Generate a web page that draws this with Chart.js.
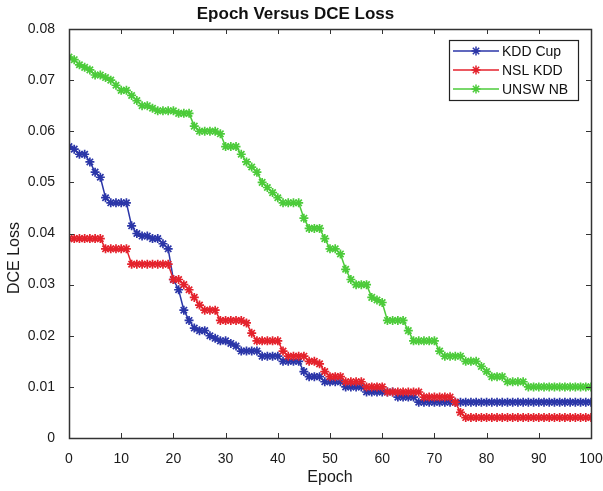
<!DOCTYPE html>
<html>
<head>
<meta charset="utf-8">
<title>Epoch Versus DCE Loss</title>
<script src="https://cdn.jsdelivr.net/npm/chart.js@4.4.1/dist/chart.umd.min.js"></script>
<style>
  html, body { margin: 0; padding: 0; background: #fff; }
  #wrap { width: 603px; height: 491px; }
</style>
</head>
<body>
<div id="wrap"><canvas id="lossChart" width="603" height="491"></canvas></div>
<script>
// Dados (perda DCE por época)
const epochs = [
  0, 1, 2, 3, 4, 5, 6, 7, 8, 9, 10, 11, 12, 13, 14, 15, 16, 17, 18, 19,
  20, 21, 22, 23, 24, 25, 26, 27, 28, 29, 30, 31, 32, 33, 34, 35, 36, 37, 38, 39,
  40, 41, 42, 43, 44, 45, 46, 47, 48, 49, 50, 51, 52, 53, 54, 55, 56, 57, 58, 59,
  60, 61, 62, 63, 64, 65, 66, 67, 68, 69, 70, 71, 72, 73, 74, 75, 76, 77, 78, 79,
  80, 81, 82, 83, 84, 85, 86, 87, 88, 89, 90, 91, 92, 93, 94, 95, 96, 97, 98, 99, 100
];

const kddCup = [
  0.057, 0.0565, 0.0555, 0.0555, 0.054, 0.052, 0.051, 0.047, 0.046, 0.046,
  0.046, 0.046, 0.0415, 0.040, 0.0395, 0.0395, 0.039, 0.039, 0.038, 0.037,
  0.031, 0.029, 0.025, 0.023, 0.0215, 0.021, 0.021, 0.020, 0.0195, 0.019,
  0.019, 0.0185, 0.018, 0.017, 0.017, 0.017, 0.017, 0.016, 0.016, 0.016,
  0.016, 0.015, 0.015, 0.015, 0.015, 0.013, 0.012, 0.012, 0.012, 0.011,
  0.011, 0.011, 0.011, 0.010, 0.010, 0.010, 0.010, 0.009, 0.009, 0.009,
  0.009, 0.009, 0.009, 0.008, 0.008, 0.008, 0.008, 0.007, 0.007, 0.007,
  0.007, 0.007, 0.007, 0.007, 0.007, 0.007, 0.007, 0.007, 0.007, 0.007,
  0.007, 0.007, 0.007, 0.007, 0.007, 0.007, 0.007, 0.007, 0.007, 0.007,
  0.007, 0.007, 0.007, 0.007, 0.007, 0.007, 0.007, 0.007, 0.007, 0.007,
  0.007
];

const nslKdd = [
  0.039, 0.039, 0.039, 0.039, 0.039, 0.039, 0.039, 0.037, 0.037, 0.037,
  0.037, 0.037, 0.034, 0.034, 0.034, 0.034, 0.034, 0.034, 0.034, 0.034,
  0.031, 0.031, 0.030, 0.029, 0.0275, 0.026, 0.025, 0.025, 0.025, 0.023,
  0.023, 0.023, 0.023, 0.023, 0.0225, 0.0205, 0.019, 0.019, 0.019, 0.019,
  0.019, 0.017, 0.016, 0.016, 0.016, 0.016, 0.015, 0.015, 0.0145, 0.013,
  0.012, 0.012, 0.012, 0.011, 0.011, 0.011, 0.011, 0.010, 0.010, 0.010,
  0.010, 0.009, 0.009, 0.009, 0.009, 0.009, 0.009, 0.009, 0.008, 0.008,
  0.008, 0.008, 0.008, 0.008, 0.007, 0.005, 0.004, 0.004, 0.004, 0.004,
  0.004, 0.004, 0.004, 0.004, 0.004, 0.004, 0.004, 0.004, 0.004, 0.004,
  0.004, 0.004, 0.004, 0.004, 0.004, 0.004, 0.004, 0.004, 0.004, 0.004,
  0.004
];

const unswNb = [
  0.0745, 0.074, 0.073, 0.0725, 0.072, 0.071, 0.071, 0.0705, 0.070, 0.069,
  0.068, 0.068, 0.067, 0.066, 0.065, 0.065, 0.0645, 0.064, 0.064, 0.064,
  0.064, 0.0635, 0.0635, 0.0635, 0.061, 0.060, 0.060, 0.060, 0.060, 0.0595,
  0.057, 0.057, 0.057, 0.0555, 0.054, 0.053, 0.052, 0.050, 0.049, 0.048,
  0.047, 0.046, 0.046, 0.046, 0.046, 0.043, 0.041, 0.041, 0.041, 0.039,
  0.037, 0.037, 0.036, 0.033, 0.031, 0.030, 0.030, 0.030, 0.0275, 0.027,
  0.0265, 0.023, 0.023, 0.023, 0.023, 0.021, 0.019, 0.019, 0.019, 0.019,
  0.019, 0.017, 0.016, 0.016, 0.016, 0.016, 0.015, 0.015, 0.015, 0.014,
  0.013, 0.012, 0.012, 0.012, 0.011, 0.011, 0.011, 0.011, 0.010, 0.010,
  0.010, 0.010, 0.010, 0.010, 0.010, 0.010, 0.010, 0.010, 0.010, 0.010,
  0.010
];

const seriesNames = ['KDD Cup', 'NSL KDD', 'UNSW NB'];
const seriesColors = ['#2b36a8', '#e4222c', '#4ccb3a'];

const xTicks = [0, 10, 20, 30, 40, 50, 60, 70, 80, 90, 100];
const yTicks = [0, 0.01, 0.02, 0.03, 0.04, 0.05, 0.06, 0.07, 0.08];
const yTickLabels = ['0', '0.01', '0.02', '0.03', '0.04', '0.05', '0.06', '0.07', '0.08'];

// Fonte parecida com Helvetica do MATLAB
Chart.defaults.font.family = "'Liberation Sans', Arial, Helvetica, sans-serif";
Chart.defaults.color = '#1a1a1a';

function toPoints(values) {
    return values.map((v, i) => ({ x: epochs[i], y: v }));
}

const allSeries = [kddCup, nslKdd, unswNb];

// Caixa do eixo + marcas de escala para dentro (estilo MATLAB)
const boxTicks = {
    id: 'boxTicks',
    afterDatasetsDraw(chart) {
        const ctx = chart.ctx;
        const a = chart.chartArea;
        const xs = chart.scales.x;
        const ys = chart.scales.y;
        const len = 5;
        ctx.save();
        ctx.strokeStyle = '#333';
        ctx.lineWidth = 1;
        xs.ticks.forEach(t => {
            const px = Math.round(xs.getPixelForValue(t.value)) + 0.5;
            ctx.beginPath();
            ctx.moveTo(px, a.bottom); ctx.lineTo(px, a.bottom - len);
            ctx.moveTo(px, a.top); ctx.lineTo(px, a.top + len);
            ctx.stroke();
        });
        ys.ticks.forEach(t => {
            const py = Math.round(ys.getPixelForValue(t.value)) + 0.5;
            ctx.beginPath();
            ctx.moveTo(a.left, py); ctx.lineTo(a.left + len, py);
            ctx.moveTo(a.right, py); ctx.lineTo(a.right - len, py);
            ctx.stroke();
        });
        ctx.lineWidth = 1.5;
        ctx.strokeRect(Math.round(a.left) + 0.5, Math.round(a.top) + 0.5,
            Math.round(a.right - a.left), Math.round(a.bottom - a.top));
        ctx.restore();
    }
};

// Rótulo do eixo Y (um pouco abaixo do centro, como na figura)
const yLabel = {
    id: 'yLabel',
    afterDraw(chart) {
        const ctx = chart.ctx;
        ctx.save();
        ctx.translate(15, 258);
        ctx.rotate(-Math.PI / 2);
        ctx.font = "16px 'Liberation Sans', Arial, sans-serif";
        ctx.fillStyle = '#1a1a1a';
        ctx.textAlign = 'center';
        ctx.textBaseline = 'middle';
        ctx.fillText('DCE Loss', 0, 0);
        ctx.restore();
    }
};

// Legenda com moldura no canto superior direito
const boxLegend = {
    id: 'boxLegend',
    afterDraw(chart) {
        const ctx = chart.ctx;
        const a = chart.chartArea;
        const right = a.right - 13;
        const w = 129, h = 60;
        const left = right - w, top = a.top + 11;
        ctx.save();
        ctx.fillStyle = '#fff';
        ctx.fillRect(left, top, w, h);
        ctx.strokeStyle = '#222';
        ctx.lineWidth = 1.2;
        ctx.strokeRect(left + 0.5, top + 0.5, w, h);
        ctx.font = "14px 'Liberation Sans', Arial, sans-serif";
        ctx.textBaseline = 'middle';
        ctx.textAlign = 'left';
        seriesNames.forEach((name, i) => {
            const y = top + 11 + i * 19;
            ctx.strokeStyle = seriesColors[i];
            ctx.lineWidth = 1.5;
            ctx.beginPath();
            ctx.moveTo(left + 4, y); ctx.lineTo(left + 50, y);
            ctx.stroke();
            Chart.helpers.drawPoint(ctx, { pointStyle: 'star', radius: 4.5, borderWidth: 1.6, rotation: 0 }, left + 27, y);
            ctx.fillStyle = '#111';
            ctx.fillText(name, left + 53, y + 1);
        });
        ctx.restore();
    }
};

new Chart(document.getElementById('lossChart'), {
    type: 'line',
    data: {
        datasets: allSeries.map((vals, i) => ({
            label: seriesNames[i],
            data: toPoints(vals),
            borderColor: seriesColors[i],
            backgroundColor: seriesColors[i],
            borderWidth: 1.5,
            pointStyle: 'star',
            pointRadius: 4.5,
            pointBorderWidth: 1.7,
            pointBorderColor: seriesColors[i],
            tension: 0,
            fill: false,
            order: 3 - i
        }))
    },
    options: {
        responsive: false,
        animation: false,
        layout: { padding: { left: 0, right: 12, top: 0, bottom: 0 } },
        plugins: {
            legend: { display: false },
            tooltip: { enabled: false },
            title: {
                display: true,
                text: 'Epoch Versus DCE Loss',
                color: '#111',
                font: { size: 17, weight: 'bold', lineHeight: 1.2 },
                padding: { top: 4, bottom: 4.6 }
            }
        },
        scales: {
            x: {
                type: 'linear',
                min: 0,
                max: 100,
                grid: { display: false },
                border: { display: false },
                afterBuildTicks: (scale) => { scale.ticks = xTicks.map(v => ({ value: v })); },
                afterFit: (scale) => { scale.height = 53; scale.paddingLeft = 0; scale.paddingRight = 0; },
                ticks: { font: { size: 14 }, padding: 5, maxRotation: 0 },
                title: {
                    display: true,
                    text: 'Epoch',
                    font: { size: 16 },
                    padding: { top: 0, bottom: 4 }
                }
            },
            y: {
                min: 0,
                max: 0.08,
                grid: { display: false },
                border: { display: false },
                afterBuildTicks: (scale) => { scale.ticks = yTicks.map(v => ({ value: v })); },
                afterFit: (scale) => { scale.width = 69; scale.paddingTop = 0; scale.paddingBottom = 0; },
                ticks: {
                    font: { size: 14 },
                    padding: 6,
                    callback: (value) => yTickLabels[yTicks.indexOf(value)] ?? value
                },
                title: { display: false }
            }
        }
    },
    plugins: [boxTicks, boxLegend, yLabel]
});
</script>
</body>
</html>
